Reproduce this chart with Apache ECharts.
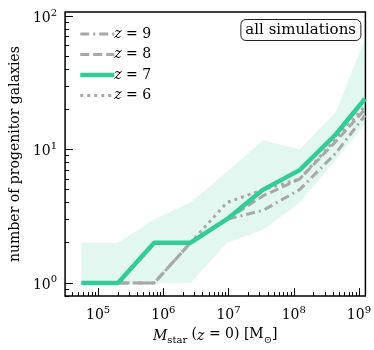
<!DOCTYPE html>
<html><head><meta charset="utf-8">
<script src="https://cdn.jsdelivr.net/npm/echarts@6/dist/echarts.min.js"></script>
<style>html,body{margin:0;padding:0;background:#fff}#c{width:374px;height:350px}</style>
</head><body><div id="c"></div>
<script>
// log10 of stellar mass bins (x) and number of progenitors (y)
const logMass = [4.746, 5.304, 5.860, 6.418, 6.976, 7.532, 8.090, 8.647, 9.093];
const nZ9 = [1, 1, 1, 2, 3, 3.5, 5, 9.4, 18];
const nZ8 = [1, 1, 1, 2, 3, 4.5, 6, 11.5, 20];
const nZ7 = [1, 1, 2, 2, 3, 5, 7, 13, 24];
const nZ6 = [1, 1, 2, 2, 4, 5, 6, 12, 21];
const bandLow = [1, 1, 1, 1, 2, 2.5, 4, 8.4, 15.4];
const bandHigh = [2, 2, 3, 4, 6.8, 11.7, 10, 19, 68];
const xTickExp = [5, 6, 7, 8, 9];
const yTickExp = [0, 1, 2];
const seriesNames = ['z = 9', 'z = 8', 'z = 7', 'z = 6'];

const FONT = 'DejaVu Serif';
const XMIN = 4.493, XMAX = 9.099, YMIN = -0.099, YMAX = 2.03;

function minorTicks(lo, hi) {
  const out = [];
  for (let d = Math.floor(lo) - 1; d <= Math.ceil(hi); d++) {
    for (let k = 2; k <= 9; k++) {
      const v = d + Math.log10(k);
      if (v > lo && v < hi) out.push(v);
    }
  }
  return out;
}
const pts = arr => arr.map((v, i) => [logMass[i], Math.log10(v)]);
const bandData = [[0]];

const GREEN = '#33cc99';
const GRAY = '#a8a8a8';
const powRich = {
  b: { fontFamily: FONT, fontSize: 14, color: '#000', verticalAlign: 'bottom', lineHeight: 18 },
  e: { fontFamily: FONT, fontSize: 10, color: '#000', verticalAlign: 'bottom', lineHeight: 18, padding: [0, 0, 7, 0] }
};
const lineWidths = [3, 3, 4.5, 3];

const chart = echarts.init(document.getElementById('c'), null, { renderer: 'canvas' });
chart.setOption({
  animation: false,
  backgroundColor: '#fff',
  grid: { left: 63, right: 7.5, top: 12, bottom: 52.7, show: true, borderColor: '#000', borderWidth: 1.5, backgroundColor: 'transparent' },
  title: {
    text: 'all simulations', right: 13, top: 19,
    borderColor: '#222', borderWidth: 1, borderRadius: 5, padding: [4, 5, 3, 5],
    textStyle: { fontFamily: FONT, fontSize: 15, fontWeight: 'normal', color: '#000' }
  },
  legend: {
    data: seriesNames.map((n, i) => ({ name: n, lineStyle: { width: lineWidths[i] } })),
    orient: 'vertical', left: 73, top: 22,
    itemWidth: 34, itemHeight: 14, itemGap: 6.5,
    itemStyle: { opacity: 0 },
    formatter: n => '{i|z} = ' + n.split('= ')[1],
    textStyle: { fontFamily: FONT, fontSize: 14, color: '#000', padding: [0, 0, 0, -5], rich: { i: { fontFamily: FONT, fontSize: 14, fontStyle: 'italic' } } }
  },
  xAxis: [
    {
      type: 'value', min: XMIN, max: XMAX, position: 'bottom',
      axisLine: { show: false, onZero: false }, splitLine: { show: false },
      axisTick: { show: true, inside: true, length: 8, customValues: xTickExp, lineStyle: { color: '#000', width: 1 } },
      axisLabel: { show: true, margin: 8, customValues: xTickExp, formatter: v => '{b|10}{e|' + Math.round(v) + '}', rich: powRich },
      name: '{it|M}{sub|star} ({it|z} = 0) [M{sub|⊙}]', nameLocation: 'middle', nameGap: 25,
      nameTextStyle: {
        fontFamily: FONT, fontSize: 14, color: '#000',
        rich: {
          it: { fontFamily: FONT, fontSize: 14, fontStyle: 'italic', verticalAlign: 'bottom', lineHeight: 18 },
          sub: { fontFamily: FONT, fontSize: 10, verticalAlign: 'bottom', lineHeight: 18, padding: [0, 0, -2, 0] }
        }
      }
    },
    {
      type: 'value', min: XMIN, max: XMAX, position: 'bottom',
      axisLine: { show: false, onZero: false }, splitLine: { show: false }, axisLabel: { show: false },
      axisTick: { show: true, inside: true, length: 4, customValues: minorTicks(XMIN, XMAX), lineStyle: { color: '#000', width: 1 } }
    }
  ],
  yAxis: [
    {
      type: 'value', min: YMIN, max: YMAX, position: 'left',
      axisLine: { show: false, onZero: false }, splitLine: { show: false },
      axisTick: { show: true, inside: true, length: 8, customValues: yTickExp, lineStyle: { color: '#000', width: 1 } },
      axisLabel: { show: true, margin: 8, customValues: yTickExp, formatter: v => '{b|10}{e|' + Math.round(v) + '}', rich: powRich },
      name: 'number of progenitor galaxies', nameLocation: 'middle', nameGap: 40, nameRotate: 90,
      nameTextStyle: { fontFamily: FONT, fontSize: 14, color: '#000' }
    },
    {
      type: 'value', min: YMIN, max: YMAX, position: 'left',
      axisLine: { show: false, onZero: false }, splitLine: { show: false }, axisLabel: { show: false },
      axisTick: { show: true, inside: true, length: 4, customValues: minorTicks(YMIN, YMAX), lineStyle: { color: '#000', width: 1 } }
    }
  ],
  series: [
    {
      name: 'band', type: 'custom', data: bandData, silent: true, z: 1, clip: true,
      renderItem: (params, api) => {
        const upper = bandHigh.map((v, i) => api.coord([logMass[i], Math.log10(v)]));
        const lower = bandLow.map((v, i) => api.coord([logMass[i], Math.log10(v)])).reverse();
        const cs = params.coordSys;
        return {
          type: 'polygon',
          shape: { points: upper.concat(lower) },
          clipPath: { type: 'rect', shape: { x: cs.x, y: cs.y, width: cs.width, height: cs.height } },
          style: { fill: 'rgba(51,204,153,0.15)' }
        };
      }
    },
    { name: seriesNames[0], type: 'line', data: pts(nZ9), symbol: 'none', color: GRAY, lineStyle: { color: GRAY, width: lineWidths[0], type: [9, 4, 2, 4] }, z: 3 },
    { name: seriesNames[1], type: 'line', data: pts(nZ8), symbol: 'none', color: GRAY, lineStyle: { color: GRAY, width: lineWidths[1], type: [9, 4] }, z: 3 },
    { name: seriesNames[2], type: 'line', data: pts(nZ7), symbol: 'none', color: GREEN, lineStyle: { color: GREEN, width: lineWidths[2] }, z: 6 },
    { name: seriesNames[3], type: 'line', data: pts(nZ6), symbol: 'none', color: GRAY, lineStyle: { color: GRAY, width: lineWidths[3], type: [3, 4] }, z: 4 }
  ]
});
</script></body></html>
